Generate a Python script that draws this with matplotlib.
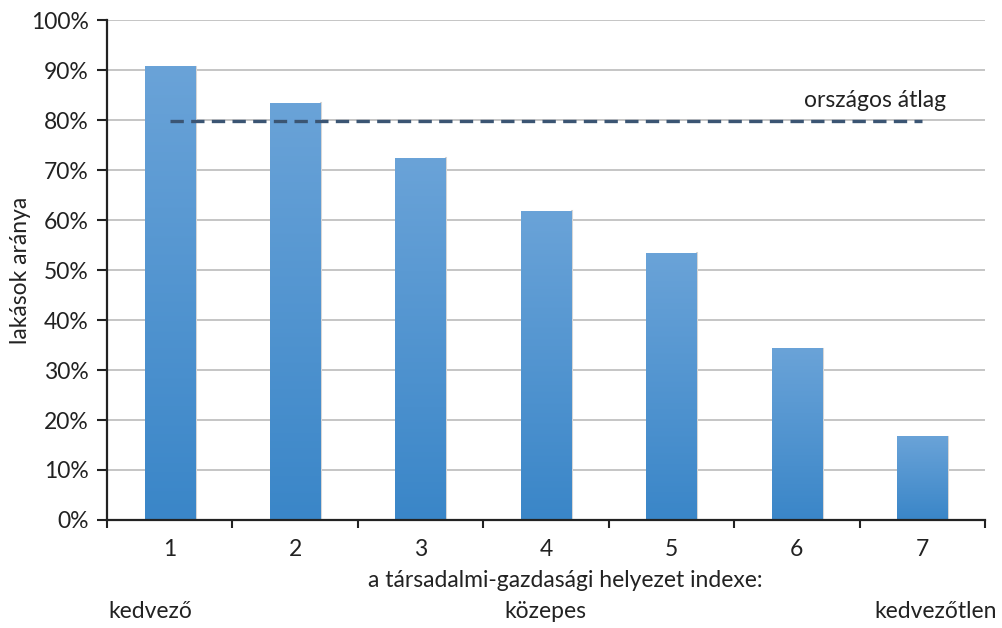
import matplotlib
matplotlib.use("Agg")
import matplotlib.pyplot as plt
from matplotlib.colors import LinearSegmentedColormap
from matplotlib.ticker import FixedLocator, PercentFormatter
import numpy as np

categories = ["1", "2", "3", "4", "5", "6", "7"]
shares     = [90.7, 83.4, 72.4, 61.8, 53.4, 34.3, 16.7]
avg_share  = 79.8

plt.rcParams["font.family"] = ["Lato", "DejaVu Sans"]
TEXT = "#222222"
GRID = "#c0c0c0"
FS   = 16.5

bar_cmap = LinearSegmentedColormap.from_list("bar", ["#3a86c8", "#6aa3d8"])

fig = plt.figure(figsize=(10.02, 6.28), dpi=100)
ax = fig.add_axes([0.1068, 0.172, 0.8762, 0.796])

x = np.arange(len(categories))
bars = ax.bar(x, shares, width=0.4, color="none", zorder=2)

# vertical gradient fill inside every bar
grad = np.linspace(0, 1, 256).reshape(-1, 1)
for b in bars:
    x0, y0 = b.get_x(), b.get_y()
    w, h = b.get_width(), b.get_height()
    ax.imshow(grad, cmap=bar_cmap, origin="lower", aspect="auto",
              extent=(x0, x0 + w, y0, y0 + h), zorder=2, interpolation="bilinear")
    # soft shadow on the right edge
    ax.plot([x0 + w + 0.006, x0 + w + 0.006], [0, h], color="#d6d6d6", lw=1.5, zorder=1.9)

ax.plot([x[0], x[-1]], [avg_share, avg_share], color="#3b5573", lw=2.4,
        dashes=(4, 2.2), zorder=3)
ax.text(5.62, avg_share + 2.0, "országos átlag", ha="center", va="bottom",
        fontsize=FS, color=TEXT)

ax.set_xlim(-0.5, len(categories) - 0.5)
ax.set_ylim(0, 100)
ax.yaxis.set_major_locator(FixedLocator(np.arange(0, 101, 10)))
ax.yaxis.set_major_formatter(PercentFormatter(decimals=0))
ax.set_xticks(x)
ax.set_xticklabels(categories)
ax.set_xticks(np.arange(-0.5, len(categories)), minor=True)
ax.tick_params(axis="x", which="major", length=0, pad=14, labelsize=FS, colors=TEXT)
ax.tick_params(axis="x", which="minor", length=6, width=1.5, direction="out", color="#222222")
ax.tick_params(axis="y", length=7, width=1.5, direction="out", labelsize=FS,
               colors=TEXT, color="#222222", pad=6)
ax.grid(axis="y", color=GRID, lw=1.3, zorder=0)
ax.set_axisbelow(True)
for side in ("top", "right"):
    ax.spines[side].set_visible(False)
for side in ("left", "bottom"):
    ax.spines[side].set_linewidth(1.6)
    ax.spines[side].set_color("#222222")
    ax.spines[side].set_zorder(4)

ax.set_ylabel("lakások aránya", fontsize=FS, color=TEXT)
ax.yaxis.set_label_coords(-0.087, 0.5)
fig.text(0.564, 0.076, "a társadalmi-gazdasági helyezet indexe:", ha="center",
         va="center", fontsize=FS, color=TEXT)
fig.text(0.544, 0.027, "közepes", ha="center", va="center", fontsize=FS, color=TEXT)
fig.text(0.150, 0.027, "kedvező", ha="center", va="center", fontsize=FS, color=TEXT)
fig.text(0.934, 0.027, "kedvezőtlen", ha="center", va="center", fontsize=FS, color=TEXT)

fig.savefig("out.png", dpi=100, facecolor="white")
